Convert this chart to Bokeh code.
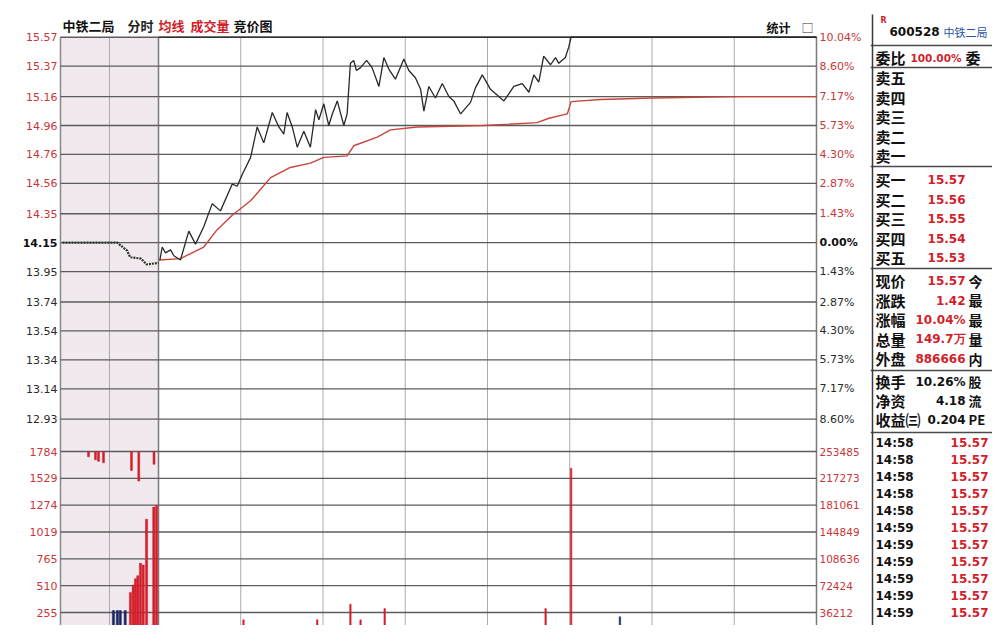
from bokeh.plotting import figure
from bokeh.layouts import row
from bokeh.models import Range1d
from bokeh.embed import file_html
from bokeh.resources import INLINE
from bokeh.core.properties import value

# ---------------- data ----------------
PREV_CLOSE = 14.15
PRICE_TICKS = [15.57, 15.37, 15.16, 14.96, 14.76, 14.56, 14.35, 14.15,
               13.95, 13.74, 13.54, 13.34, 13.14, 12.93]
PRICE_LABELS = ["15.57", "15.37", "15.16", "14.96", "14.76", "14.56", "14.35", "14.15",
                "13.95", "13.74", "13.54", "13.34", "13.14", "12.93"]
PCT_LABELS = ["10.04%", "8.60%", "7.17%", "5.73%", "4.30%", "2.87%", "1.43%", "0.00%",
              "1.43%", "2.87%", "4.30%", "5.73%", "7.17%", "8.60%"]

VOL_TICKS = [253485, 217273, 181061, 144849, 108636, 72424, 36212]
VOL_LABELS_LEFT = ["1784", "1529", "1274", "1019", "765", "510", "255"]
VOL_LABELS_RIGHT = ["253485", "217273", "181061", "144849", "108636", "72424", "36212"]

TIME_GRID = [0, 30, 60, 90, 120, 150, 180, 210, 240]      # minutes after 9:30
AUCTION_GRID = [0, 5, 10]                                  # minutes after 9:15

# call-auction price (minutes after 9:15)
AUC_T = [0.2, 5.8, 6.8, 7.1, 8.2, 8.8, 10.0]
AUC_P = [14.15, 14.15, 14.095, 14.05, 14.04, 14.00, 14.01]

# call-auction matched volume
AUC_VOL_T = [5.4, 5.8, 6.1, 6.6, 7.14, 7.42, 7.65, 7.89, 8.16, 8.44, 8.78, 9.52, 9.80]
AUC_VOL = [38900, 38900, 38900, 38900, 63300, 73200, 81900, 85900, 102800, 100400,
           162100, 178500, 180600]
AUC_VOL_UP = [False, False, False, False, True, True, True, True, True, True, True, True, True]

# call-auction unmatched volume (hanging bars)
AUC_HANG_T = [2.86, 3.57, 3.88, 4.39, 7.24, 7.99, 9.54]
AUC_HANG = [7085, 11185, 13285, 15185, 25585, 39885, 17285]

# intraday price
MIN_T = [0.5, 1.35, 2.55, 4.4, 5.6, 8.0, 11.05, 13.5, 16.5, 19.6, 22.6, 26.9, 28.7, 30.5,
         33.6, 36.0, 38.4, 41.5, 43.9, 45.7, 46.9, 48.8, 50.6, 53.0, 55.4, 57.3, 58.5,
         60.3, 62.1, 63.4, 65.2, 67.6, 68.8, 70.0, 71.2, 72.2, 73.7, 75.9, 77.9, 80.4,
         82.2, 84.0, 86.4, 89.5, 91.3, 93.7, 95.6, 96.8, 98.6, 101.0, 103.5, 105.9,
         107.7, 110.2, 113.8, 115.6, 118.1, 121.1, 126.0, 129.6, 132.7, 135.1, 136.9,
         138.7, 140.5, 143.0, 144.8, 146.0, 148.4, 149.6, 150.5, 240]
PRICE = [14.03, 14.12, 14.08, 14.10, 14.06, 14.03, 14.23, 14.14, 14.26, 14.42, 14.37,
         14.555, 14.54, 14.62, 14.74, 14.95, 14.84, 15.05, 14.95, 14.90, 15.05, 14.95,
         14.81, 14.92, 14.81, 15.07, 15.00, 15.11, 14.96, 15.04, 15.13, 14.96, 15.04,
         15.39, 15.41, 15.34, 15.36, 15.41, 15.36, 15.23, 15.43, 15.35, 15.28, 15.42,
         15.34, 15.29, 15.21, 15.06, 15.23, 15.15, 15.25, 15.16, 15.13, 15.04, 15.12,
         15.22, 15.31, 15.21, 15.13, 15.23, 15.25, 15.19, 15.31, 15.26, 15.44, 15.38,
         15.43, 15.39, 15.43, 15.50, 15.57, 15.57]

# intraday average price
AVG_T = [0.1, 8.0, 16.5, 21.4, 26.9, 33.6, 40.9, 48.1, 55.4, 60.3, 68.8, 71.2, 79.8,
         84.6, 94.4, 118.6, 138.1, 142.4, 149.1, 150.5, 161.2, 180.2, 212.3, 240]
AVG = [14.03, 14.04, 14.12, 14.24, 14.34, 14.44, 14.60, 14.67, 14.70, 14.74, 14.75,
       14.82, 14.88, 14.93, 14.95, 14.96, 14.98, 15.01, 15.04, 15.125, 15.14, 15.15,
       15.16, 15.16]

# intraday volume
VOL_T = [31.0, 57.9, 70.0, 73.7, 82.5, 141.2, 150.5, 168.3]
VOL = [26300, 26300, 47300, 26300, 41500, 41500, 230900, 30400]
VOL_UP = [True, True, True, True, True, True, True, False]

# quote panel
QUOTE_CODE = "600528"
QUOTE_NAME = "中铁二局"
WEIBI = ["委比", "100.00%", "委"]
SELL_LABELS = ["卖五", "卖四", "卖三", "卖二", "卖一"]
BUY_LABELS = ["买一", "买二", "买三", "买四", "买五"]
BUY_PRICES = ["15.57", "15.56", "15.55", "15.54", "15.53"]
STAT_LABELS = ["现价", "涨跌", "涨幅", "总量", "外盘"]
STAT_VALUES = ["15.57", "1.42", "10.04%", "149.7万", "886666"]
STAT_TAIL = ["今", "最", "最", "量", "内"]
STAT2_LABELS = ["换手", "净资", "收益㈢"]
STAT2_VALUES = ["10.26%", "4.18", "0.204"]
STAT2_TAIL = ["股", "流", "PE"]
TRADE_TIMES = ["14:58", "14:58", "14:58", "14:58", "14:58",
               "14:59", "14:59", "14:59", "14:59", "14:59", "14:59"]
TRADE_PRICES = ["15.57"] * 11

# ---------------- style ----------------
RED = "#d21f2b"
LBL_RED = "#c8363a"
GRID_H = "#5c5c5c"
GRID_V = "#ababab"
NUM_FONT = value("DejaVu Sans")
CJK_FONT = value("Noto Sans CJK SC")
H = 625


def base_fig(width, xr, yr):
    f = figure(width=width, height=H, x_range=xr, y_range=yr, output_backend="svg",
               toolbar_location=None, x_axis_type=None, y_axis_type=None,
               min_border=0, outline_line_color=None,
               background_fill_color="white", border_fill_color="white")
    return f


# ---------------- chart ----------------
p = base_fig(870, Range1d(-57.63, 259.70), Range1d(11.5041, 15.8241))
p.extra_x_ranges = {"auc": Range1d(-6.122, 82.653), "px": Range1d(0, 870)}
p.extra_y_ranges = {"vol": Range1d(18669, 862118), "px": Range1d(625, 0)}
YB = p.y_range.start
PT = PRICE_TICKS[0]
T0, T1 = TIME_GRID[0], TIME_GRID[-1]
A0, A1 = AUCTION_GRID[0], AUCTION_GRID[-1]

# auction shading
p.quad(left=[A0], right=[A1], top=[PT], bottom=[YB], x_range_name="auc",
       fill_color="#f1e9ee", line_color=None)

# vertical grid
p.segment(x0=TIME_GRID, x1=TIME_GRID, y0=[PT] * len(TIME_GRID), y1=[YB] * len(TIME_GRID),
          line_color=GRID_V, line_width=1)
p.segment(x0=AUCTION_GRID, x1=AUCTION_GRID, y0=[PT] * 3, y1=[YB] * 3,
          x_range_name="auc", line_color=GRID_V, line_width=1)
p.segment(x0=[T0, T1], x1=[T0, T1], y0=[PT, PT], y1=[YB, YB],
          line_color="#7a7a7a", line_width=1.5)
p.segment(x0=[A0], x1=[A0], y0=[PT], y1=[YB], x_range_name="auc",
          line_color="#8a8a8a", line_width=1.5)

# horizontal grid (price)
n = len(PRICE_TICKS)
p.segment(x0=[T0] * n, x1=[T1] * n, y0=PRICE_TICKS, y1=PRICE_TICKS,
          line_color=GRID_H, line_width=1.3)
p.segment(x0=[A0] * n, x1=[A1] * n, y0=PRICE_TICKS, y1=PRICE_TICKS,
          x_range_name="auc", line_color=GRID_H, line_width=1.3)
p.segment(x0=[T0], x1=[T1], y0=[PT], y1=[PT], line_color="#333333", line_width=1.6)

# horizontal grid (volume)
m = len(VOL_TICKS)
p.segment(x0=[T0] * m, x1=[T1] * m, y0=VOL_TICKS, y1=VOL_TICKS, y_range_name="vol",
          line_color=GRID_H, line_width=1.3)
p.segment(x0=[A0] * m, x1=[A1] * m, y0=VOL_TICKS, y1=VOL_TICKS, y_range_name="vol",
          x_range_name="auc", line_color=GRID_H, line_width=1.3)

# volume bars
vcol = [RED if u else "#1d2660" for u in VOL_UP]
p.vbar(x=VOL_T, top=VOL, bottom=0, width=0.55, y_range_name="vol",
       fill_color=vcol, line_color=vcol, line_width=0.5)
acol = [RED if u else "#1d2660" for u in AUC_VOL_UP]
p.vbar(x=AUC_VOL_T, top=AUC_VOL, bottom=0, width=0.22, x_range_name="auc",
       y_range_name="vol", fill_color=acol, line_color=acol, line_width=0.5)
p.vbar(x=AUC_HANG_T, top=[VOL_TICKS[0]] * len(AUC_HANG),
       bottom=[VOL_TICKS[0] - h for h in AUC_HANG], width=0.2, x_range_name="auc",
       y_range_name="vol", fill_color=RED, line_color=RED, line_width=0.5)

# price lines
p.line(AUC_T, AUC_P, x_range_name="auc", line_color="#2e3a2e", line_width=2.2,
       line_dash="2 1")
p.line(AVG_T, AVG, line_color="#c9453a", line_width=1.4)
p.line(MIN_T, PRICE, line_color="#262a26", line_width=1.3)

# axis labels
up = [i for i, t in enumerate(PRICE_TICKS) if t > PREV_CLOSE + 1e-9]
mid = [i for i, t in enumerate(PRICE_TICKS) if abs(t - PREV_CLOSE) < 1e-9]
dn = [i for i, t in enumerate(PRICE_TICKS) if t < PREV_CLOSE - 1e-9]


def pick(lst, idx):
    return [lst[i] for i in idx]


for idx, col, sty in ((up, LBL_RED, "normal"), (mid, "#111111", "bold"), (dn, "#2a2a2a", "normal")):
    p.text(x=[A0] * len(idx), y=pick(PRICE_TICKS, idx), text=pick(PRICE_LABELS, idx),
           x_range_name="auc", x_offset=-3, text_align="right", text_baseline="middle",
           text_color=col, text_font=NUM_FONT, text_font_size="11px", text_font_style=sty)
    p.text(x=[T1] * len(idx), y=pick(PRICE_TICKS, idx), text=pick(PCT_LABELS, idx),
           x_offset=3, text_align="left", text_baseline="middle",
           text_color=col, text_font=NUM_FONT, text_font_size="11px", text_font_style=sty)

p.text(x=[A0] * m, y=VOL_TICKS, text=VOL_LABELS_LEFT, x_range_name="auc", y_range_name="vol",
       x_offset=-3, text_align="right", text_baseline="middle", text_color=LBL_RED,
       text_font=NUM_FONT, text_font_size="11px")
p.text(x=[T1] * m, y=VOL_TICKS, text=VOL_LABELS_RIGHT, y_range_name="vol",
       x_offset=3, text_align="left", text_baseline="middle", text_color=LBL_RED,
       text_font=NUM_FONT, text_font_size="10.5px")

# header
hdr = [("中铁二局", 62, "#111111"), ("分时", 127, "#222222"), ("均线", 158, RED),
       ("成交量", 190, RED), ("竞价图", 233, "#111111")]
for txt, hx, col in hdr:
    p.text(x=[hx], y=[25], text=[txt], x_range_name="px", y_range_name="px",
           text_align="left", text_baseline="middle", text_color=col,
           text_font=CJK_FONT, text_font_size="13px", text_font_style="bold")
p.text(x=[766], y=[27], text=["统计"], x_range_name="px", y_range_name="px",
       text_align="left", text_baseline="middle", text_color="#111111",
       text_font=CJK_FONT, text_font_size="12px", text_font_style="bold")
p.text(x=[801], y=[27], text=["□"], x_range_name="px", y_range_name="px",
       text_align="left", text_baseline="middle", text_color="#333333",
       text_font=CJK_FONT, text_font_size="12px")

# ---------------- quote panel ----------------
q = base_fig(122, Range1d(870, 992), Range1d(625, 0))
LX, VX, TX = 875, 965, 968
ROW = 19.5

SEP_Y = [45, 67, 166, 268, 370, 432]
q.segment(x0=[870] * len(SEP_Y), x1=[992] * len(SEP_Y), y0=SEP_Y, y1=SEP_Y,
          line_color="#4a4a4a", line_width=1.3)
q.segment(x0=[872], x1=[872], y0=[14], y1=[625], line_color="#3a3a3a", line_width=1.5)


def put(xs, ys, texts, col, size, font, align="left", style="bold"):
    q.text(x=xs, y=ys, text=texts, text_color=col, text_font=font, text_font_size=size,
           text_align=align, text_baseline="middle", text_font_style=style)


put([880], [20], ["R"], RED, "8px", NUM_FONT)
put([889], [31], [QUOTE_CODE], "#111111", "12px", NUM_FONT)
put([943], [31], [QUOTE_NAME], "#2a55a8", "11px", CJK_FONT, style="normal")

put([LX], [57], [WEIBI[0]], "#111111", "15px", CJK_FONT)
put([VX - 4], [57], [WEIBI[1]], RED, "10.5px", NUM_FONT, align="right")
put([TX - 3], [57], [WEIBI[2]], "#111111", "15px", CJK_FONT)

sy = [77 + i * ROW for i in range(len(SELL_LABELS))]
put([LX] * len(sy), sy, SELL_LABELS, "#111111", "15px", CJK_FONT)

by = [179 + i * ROW for i in range(len(BUY_LABELS))]
put([LX] * len(by), by, BUY_LABELS, "#111111", "15px", CJK_FONT)
put([VX] * len(by), by, BUY_PRICES, RED, "12px", NUM_FONT, align="right")

st = [280 + i * ROW for i in range(len(STAT_LABELS))]
put([LX] * len(st), st, STAT_LABELS, "#111111", "15px", CJK_FONT)
put([VX] * len(st), st, STAT_VALUES, RED, "12px", NUM_FONT, align="right")
put([TX] * len(st), st, STAT_TAIL, "#111111", "14px", CJK_FONT)

s2 = [381 + i * 19 for i in range(len(STAT2_LABELS))]
put([LX] * len(s2), s2, STAT2_LABELS, "#111111", "15px", CJK_FONT)
put([VX] * len(s2), s2, STAT2_VALUES, "#111111", "12px", NUM_FONT, align="right")
put([TX] * len(s2), s2, STAT2_TAIL, "#111111", "13px", CJK_FONT)

ty = [442 + i * 17.0 for i in range(len(TRADE_TIMES))]
put([LX] * len(ty), ty, TRADE_TIMES, "#111111", "12px", NUM_FONT)
put([988] * len(ty), ty, TRADE_PRICES, RED, "12px", NUM_FONT, align="right")

layout = row(p, q)
open("out.html", "w").write(file_html(layout, INLINE))
